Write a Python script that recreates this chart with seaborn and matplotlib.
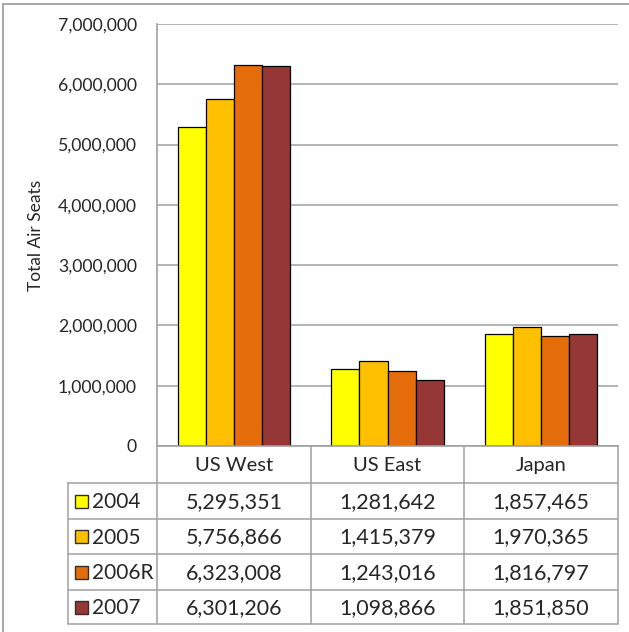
import pandas as pd
import matplotlib
matplotlib.use('Agg')
import matplotlib.pyplot as plt
from matplotlib.lines import Line2D
from matplotlib.patches import Rectangle
import seaborn as sns

# Chart data
regions = ['US West', 'US East', 'Japan']
years = ['2004', '2005', '2006R', '2007']
seats_2004 = [5295351, 1281642, 1857465]
seats_2005 = [5756866, 1415379, 1970365]
seats_2006r = [6323008, 1243016, 1816797]
seats_2007 = [6301206, 1098866, 1851850]
colors = ['#FFFF00', '#FFC000', '#E46C0A', '#953735']

series = [seats_2004, seats_2005, seats_2006r, seats_2007]
rows = []
for year, vals in zip(years, series):
    for region, v in zip(regions, vals):
        rows.append({'region': region, 'year': year, 'seats': v})
data = pd.DataFrame(rows)

sns.set_style('white')
plt.rcParams['font.family'] = ['Lato', 'DejaVu Sans']

W, H = 629, 632
fig = plt.figure(figsize=(W / 100, H / 100), dpi=100)

# pixel helpers for the layout
def fx(px):
    return px / W

def fy(py):
    return 1 - py / H

plot_l, plot_r, plot_t, plot_b = 157, 618, 24, 446
ax = fig.add_axes([fx(plot_l), fy(plot_b), fx(plot_r - plot_l), (plot_b - plot_t) / H])

sns.barplot(data=data, x='region', y='seats', hue='year', order=regions, hue_order=years,
            palette=colors, width=0.73, edgecolor='black', linewidth=0.9,
            saturation=1, legend=False, ax=ax)

ax.set_xlim(-0.5, 2.5)
ax.set_ylim(0, 7000000)
ax.set_yticks(range(0, 7000001, 1000000))
ax.set_yticklabels([f'{v:,}' for v in range(0, 7000001, 1000000)], fontsize=12.7)
ax.yaxis.grid(True, color='#A0A0A0', linewidth=1.1)
ax.set_axisbelow(True)
ax.set_xticks([])
ax.set_xlabel('')
ax.set_ylabel('Total Air Seats', fontsize=12.5, labelpad=10)
ax.tick_params(axis='y', length=0, pad=14.5)
for side in ['top', 'right']:
    ax.spines[side].set_visible(False)
for side in ['left', 'bottom']:
    ax.spines[side].set_color('#A0A0A0')
    ax.spines[side].set_linewidth(1.2)

# overlay in pixel coordinates for the data table and chart border
ov = fig.add_axes([0, 0, 1, 1], zorder=-1)
ov.set_xlim(0, W)
ov.set_ylim(H, 0)
ov.axis('off')

grey = '#A0A0A0'
ov.add_line(Line2D([3, 3], [4, H], color=grey, lw=1.3))
ov.add_line(Line2D([3, W], [4, 4], color=grey, lw=1.3))

lab_l = 68
col_x = [157, 311, 464, 618]
row_y = [446, 483, 519, 554, 590, 624]

ov.add_line(Line2D([lab_l, lab_l], [row_y[1], row_y[-1]], color=grey, lw=1.1))
for x in col_x:
    ov.add_line(Line2D([x, x], [row_y[0], row_y[-1]], color=grey, lw=1.1))
for y in row_y[1:]:
    ov.add_line(Line2D([lab_l, col_x[-1]], [y, y], color=grey, lw=1.1))

col_c = [(a + b) / 2 for a, b in zip(col_x[:-1], col_x[1:])]
head_y = (row_y[0] + row_y[1]) / 2
for c, region in zip(col_c, regions):
    ov.text(c, head_y + 1, region, ha='center', va='center', fontsize=14.5)

for i, (year, vals, col) in enumerate(zip(years, series, colors)):
    cy = (row_y[i + 1] + row_y[i + 2]) / 2
    ov.add_patch(Rectangle((75, cy - 6.5), 13, 13, facecolor=col, edgecolor='#303030', lw=1))
    ov.text(92, cy + 1, year, ha='left', va='center', fontsize=15)
    for c, v in zip(col_c, vals):
        ov.text(c, cy + 1, f'{v:,}', ha='center', va='center', fontsize=15.5)

fig.savefig('out.png', dpi=100)
